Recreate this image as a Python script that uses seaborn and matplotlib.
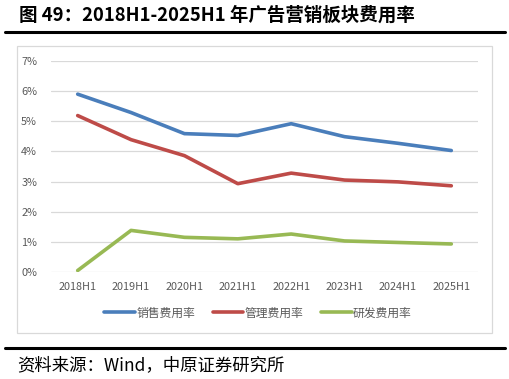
import numpy as np
import pandas as pd
import seaborn as sns
import matplotlib
matplotlib.use("Agg")
import matplotlib.pyplot as plt
from matplotlib.patches import Rectangle
from matplotlib.lines import Line2D

categories = ["2018H1", "2019H1", "2020H1", "2021H1", "2022H1", "2023H1", "2024H1", "2025H1"]
sales_rate = [5.90, 5.29, 4.59, 4.53, 4.92, 4.49, 4.27, 4.03]
admin_rate = [5.19, 4.39, 3.86, 2.93, 3.28, 3.05, 2.99, 2.86]
rd_rate = [0.05, 1.38, 1.15, 1.10, 1.26, 1.03, 0.98, 0.93]
series_names = ["销售费用率", "管理费用率", "研发费用率"]
y_ticks = [0, 1, 2, 3, 4, 5, 6, 7]

sns.set_theme(style="white")
plt.rcParams['font.family'] = ['Noto Sans CJK SC', 'DejaVu Sans']

df = pd.DataFrame({
    "cat": categories * 3,
    "x": list(range(len(categories))) * 3,
    "val": sales_rate + admin_rate + rd_rate,
    "series": [series_names[0]] * 8 + [series_names[1]] * 8 + [series_names[2]] * 8,
})

colors = ["#4A7EBB", "#BE4B48", "#98B954"]

fig = plt.figure(figsize=(5.10, 3.79), dpi=100)
W, H = 510, 379

# chart frame
fig.patches.append(Rectangle((17 / W, 1 - 333 / H), (492 - 17) / W, (333 - 46) / H,
                             transform=fig.transFigure, fill=False, edgecolor="#D9D9D9", lw=0.9))
# title
fig.text(19 / W, 1 - 15 / H, "图 49：2018H1-2025H1 年广告营销板块费用率", fontsize=13.3,
         fontweight="bold", va="center", ha="left", color="#000000")
fig.add_artist(Line2D([5 / W, 505 / W], [1 - 32 / H, 1 - 32 / H], color="black", lw=2.2,
                      transform=fig.transFigure))
fig.add_artist(Line2D([5 / W, 505 / W], [1 - 348 / H, 1 - 348 / H], color="black", lw=2.2,
                      transform=fig.transFigure))
fig.text(17 / W, 1 - 365 / H, "资料来源：Wind，中原证券研究所", fontsize=12.5, va="center", ha="left",
         color="#000000")

ax = fig.add_axes([51 / W, 1 - 272 / H, (478 - 51) / W, (272 - 61) / H])
sns.lineplot(data=df, x="x", y="val", hue="series", palette=colors, ax=ax, lw=2.6,
             legend=False, sort=False)
ax.set_xlim(-0.5, len(categories) - 0.5)
ax.set_ylim(0, 7)
ax.set_yticks(y_ticks)
ax.set_yticklabels([f"{t}%" for t in y_ticks])
ax.set_xticks(range(len(categories)))
ax.set_xticklabels(categories)
ax.set_xlabel("")
ax.set_ylabel("")
for s in ax.spines.values():
    s.set_visible(False)
ax.grid(axis="y", color="#D9D9D9", lw=0.9)
ax.set_axisbelow(True)
ax.tick_params(axis="both", length=0, labelsize=7.8, labelcolor="#595959", pad=7)
ax.tick_params(axis="y", pad=10)

handles = [Line2D([0], [0], color=c, lw=2.6) for c in colors]
fig.legend(handles, series_names, loc="center", bbox_to_anchor=(258 / W, 1 - 313 / H), ncol=3,
           frameon=False, fontsize=8.5, handlelength=2.6, handletextpad=0.1, columnspacing=1.5,
           labelcolor="#595959")

fig.savefig("out.png", dpi=100)
